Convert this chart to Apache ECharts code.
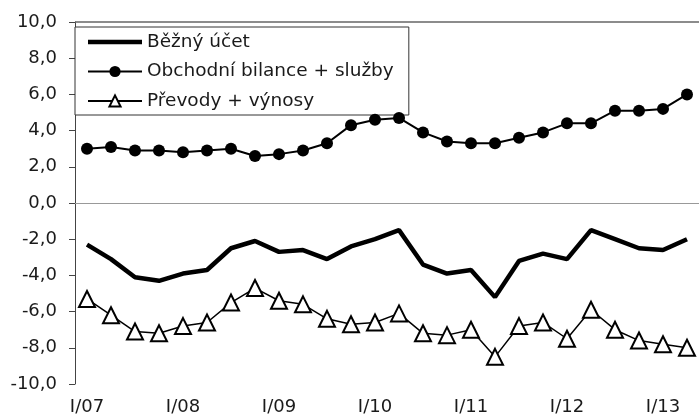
<!DOCTYPE html>
<html>
<head>
<meta charset="utf-8">
<script src="https://cdn.jsdelivr.net/npm/echarts@6/dist/echarts.min.js"></script>
<style>
html,body{margin:0;padding:0;background:#fff;}
#chart{width:699px;height:416px;}
</style>
</head>
<body>
<div id="chart"></div>
<script>
const categories = [
  'I/07','II/07','III/07','IV/07',
  'I/08','II/08','III/08','IV/08',
  'I/09','II/09','III/09','IV/09',
  'I/10','II/10','III/10','IV/10',
  'I/11','II/11','III/11','IV/11',
  'I/12','II/12','III/12','IV/12',
  'I/13','II/13'
];
const seriesNames = ['Běžný účet', 'Obchodní bilance + služby', 'Převody + výnosy'];
const currentAccount = [-2.3,-3.1,-4.1,-4.3,-3.9,-3.7,-2.5,-2.1,-2.7,-2.6,-3.1,-2.4,-2.0,-1.5,-3.4,-3.9,-3.7,-5.2,-3.2,-2.8,-3.1,-1.5,-2.0,-2.5,-2.6,-2.0];
const tradeServices = [3.0,3.1,2.9,2.9,2.8,2.9,3.0,2.6,2.7,2.9,3.3,4.3,4.6,4.7,3.9,3.4,3.3,3.3,3.6,3.9,4.4,4.4,5.1,5.1,5.2,6.0];
const transfersIncome = [-5.3,-6.2,-7.1,-7.2,-6.8,-6.6,-5.5,-4.7,-5.4,-5.6,-6.4,-6.7,-6.6,-6.1,-7.2,-7.3,-7.0,-8.5,-6.8,-6.6,-7.5,-5.9,-7.0,-7.6,-7.8,-8.0];
const yMin = -10, yMax = 10, yStep = 2;

const FONT = 'DejaVu Sans';
const chart = echarts.init(document.getElementById('chart'), null, {renderer: 'canvas'});
chart.setOption({
  animation: false,
  backgroundColor: '#fff',
  textStyle: {fontFamily: FONT, color: '#1a1a1a'},
  grid: {left: 75, right: 0, top: 22, bottom: 31, containLabel: false},
  legend: {
    orient: 'vertical',
    left: 75, top: 27,
    padding: [5, 15, 4, 12],
    itemWidth: 54, itemHeight: 14, itemGap: 9.5,
    backgroundColor: '#fff',
    borderColor: '#333', borderWidth: 1,
    symbolKeepAspect: true,
    textStyle: {fontFamily: FONT, fontSize: 18.5, color: '#1a1a1a', lineHeight: 20},
    data: [
      {name: seriesNames[0], icon: 'path://M0,0H54V4.5H0Z', itemStyle: {color: '#000'}},
      {name: seriesNames[1]},
      {name: seriesNames[2]}
    ]
  },
  xAxis: {
    type: 'category',
    data: categories,
    boundaryGap: true,
    axisLine: {lineStyle: {color: '#444', width: 1}},
    axisTick: {show: false},
    axisLabel: {interval: 3, fontFamily: FONT, fontSize: 18, color: '#1a1a1a', margin: 14},
    splitLine: {show: false}
  },
  yAxis: {
    type: 'value',
    min: yMin, max: yMax, interval: yStep,
    axisLine: {show: true, lineStyle: {color: '#444', width: 1}},
    axisTick: {show: true, length: 6, lineStyle: {color: '#444'}},
    axisLabel: {fontFamily: FONT, fontSize: 18, color: '#1a1a1a', margin: 18,
      formatter: v => v.toFixed(1).replace('.', ',')},
    splitLine: {show: false}
  },
  series: [
    {
      name: seriesNames[0], type: 'line', data: currentAccount,
      symbol: 'none', lineStyle: {color: '#000', width: 4.5},
      itemStyle: {color: '#000'}, z: 3,
      markLine: {
        silent: true, symbol: 'none', label: {show: false},
        lineStyle: {color: '#999', width: 1, type: 'solid'},
        data: [{yAxis: 0}, {yAxis: 10, lineStyle: {color: '#666', width: 1.5}}]
      }
    },
    {
      name: seriesNames[1], type: 'line', data: tradeServices,
      symbol: 'circle', symbolSize: 12, showSymbol: true,
      lineStyle: {color: '#000', width: 2},
      itemStyle: {color: '#000'}, z: 4
    },
    {
      name: seriesNames[2], type: 'line', data: transfersIncome,
      symbol: 'triangle', symbolSize: 16, showSymbol: true,
      lineStyle: {color: '#000', width: 1.5},
      itemStyle: {color: '#fff', borderColor: '#000', borderWidth: 2}, z: 4
    }
  ]
});
</script>
</body>
</html>
